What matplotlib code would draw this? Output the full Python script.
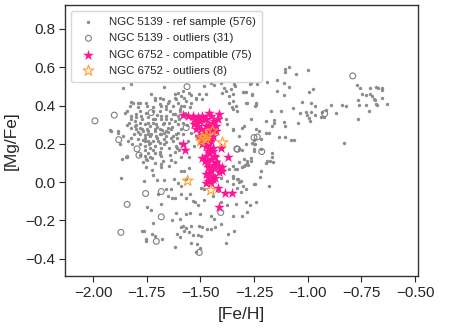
import numpy as np
import matplotlib
matplotlib.use("Agg")
import matplotlib.pyplot as plt
import seaborn as sns

sns.set_theme(style="ticks")
plt.rcParams["font.family"] = ["Liberation Sans", "DejaVu Sans"]

# NGC 5139 reference sample ([Fe/H], [Mg/Fe])
ref_pts = [
    (-1.085, 0.604), (-1.107, 0.59), (-1.107, 0.574), (-1.056, 0.567), (-0.999, 0.588),
    (-1.142, 0.532), (-1.111, 0.518), (-1.088, 0.499), (-1.27, 0.511), (-1.236, 0.515),
    (-1.19, 0.525), (-1.301, 0.473), (-1.288, 0.469), (-1.258, 0.454), (-1.142, 0.476),
    (-1.11, 0.455), (-0.975, 0.489), (-0.992, 0.471), (-1.286, 0.414), (-1.24, 0.414),
    (-1.245, 0.4), (-1.026, 0.42), (-0.985, 0.414), (-0.968, 0.4), (-0.892, 0.403),
    (-0.841, 0.403), (-0.823, 0.396), (-1.068, 0.386), (-1.124, 0.372), (-1.037, 0.36),
    (-1.006, 0.369), (-1.005, 0.351), (-0.986, 0.369), (-0.968, 0.353), (-0.995, 0.334),
    (-0.991, 0.317), (-0.934, 0.369), (-0.916, 0.376), (-0.937, 0.338), (-0.926, 0.341),
    (-0.867, 0.362), (-1.156, 0.323), (-1.168, 0.294), (-1.108, 0.316), (-1.104, 0.292),
    (-1.046, 0.309), (-1.193, 0.259), (-1.134, 0.236), (-1.104, 0.238), (-1.08, 0.221),
    (-1.063, 0.221), (-0.833, 0.207), (-1.25, 0.221), (-1.216, 0.224), (-1.247, 0.198),
    (-0.772, 0.505), (-0.756, 0.492), (-0.71, 0.492), (-0.684, 0.499), (-0.671, 0.494),
    (-0.656, 0.494), (-0.656, 0.48), (-0.745, 0.462), (-0.728, 0.454), (-0.71, 0.459),
    (-0.702, 0.45), (-0.69, 0.433), (-0.656, 0.437), (-0.764, 0.43), (-0.761, 0.403),
    (-0.726, 0.403), (-0.682, 0.41), (-0.679, 0.403), (-0.63, 0.41), (-0.715, 0.372),
    (-0.764, 0.332), (-0.687, 0.43),
    (-1.319, 0.172), (-1.304, 0.167), (-1.25, 0.163), (-1.25, 0.198), (-1.165, 0.153),
    (-1.263, 0.124), (-1.284, 0.099), (-1.276, 0.09), (-1.292, 0.089), (-1.193, 0.101),
    (-1.177, 0.111), (-1.161, 0.104), (-1.224, 0.028), (-1.25, -0.007), (-1.245, -0.01),
    (-1.319, 0.002), (-1.301, -0.022), (-1.286, -0.033), (-1.312, -0.05), (-1.286, -0.101),
    (-1.27, -0.12), (-1.24, -0.106), (-1.281, -0.156), (-1.304, -0.179),
    (-1.847, 0.134), (-1.87, 0.024), (-1.759, 0.139), (-1.749, 0.116), (-1.726, 0.124),
    (-1.767, 0.106), (-1.713, 0.099), (-1.682, 0.094), (-1.675, 0.111), (-1.636, 0.115),
    (-1.62, 0.103), (-1.644, 0.082), (-1.685, 0.077), (-1.726, 0.064), (-1.755, 0.077),
    (-1.721, 0.037), (-1.701, 0.012), (-1.763, 0.007), (-1.667, 0.012), (-1.625, 0.019),
    (-1.59, 0.059), (-1.574, 0.059), (-1.551, 0.073), (-1.569, 0.019), (-1.59, -0.022),
    (-1.605, -0.005), (-1.636, -0.033), (-1.659, -0.037), (-1.698, -0.063), (-1.651, -0.071),
    (-1.633, -0.08), (-1.616, -0.085), (-1.59, -0.063), (-1.548, -0.063), (-1.566, -0.08),
    (-1.536, -0.097), (-1.525, -0.106), (-1.512, -0.12), (-1.497, -0.028), (-1.481, -0.033),
    (-1.481, -0.094), (-1.682, -0.115), (-1.747, -0.132), (-1.728, -0.145), (-1.613, -0.163),
    (-1.597, -0.193), (-1.633, -0.197), (-1.566, -0.167), (-1.546, -0.162), (-1.5, -0.167),
    (-1.721, -0.215), (-1.582, -0.228), (-1.569, -0.24), (-1.59, -0.236), (-1.543, -0.231),
    (-1.505, -0.228), (-1.494, -0.233), (-1.574, -0.254), (-1.551, -0.262), (-1.536, -0.276),
    (-1.512, -0.276), (-1.497, -0.28), (-1.608, -0.271), (-1.593, -0.288), (-1.772, -0.257),
    (-1.763, -0.257), (-1.726, -0.271), (-1.713, -0.28), (-1.752, -0.297), (-1.755, -0.309),
    (-1.679, -0.294), (-1.543, -0.318), (-1.516, -0.323), (-1.616, -0.336), (-1.52, -0.362),
    (-1.5, -0.341), (-1.875, 0.198), (-1.551, 0.129), (-1.59, 0.129), (-1.608, 0.181),
    (-1.682, 0.137), (-1.42, 0.111), (-1.405, 0.024), (-1.42, -0.045), (-1.443, -0.071),
    (-1.405, -0.106), (-1.374, -0.118), (-1.335, -0.115), (-1.35, -0.174), (-1.405, -0.219),
    (-1.435, -0.193), (-1.451, -0.174), (-1.369, -0.268), (-1.381, -0.315), (-1.343, -0.254),
    (-1.35, 0.024), (-1.327, 0.068), (-1.304, 0.077), (-1.338, 0.068), (-1.374, 0.007),
    (-1.323, 0.016), (-1.312, 0.007), (-1.35, -0.01), (-1.327, -0.028), (-1.471, -0.245),
    (-1.431, -0.236), (-1.451, -0.245),
    (-1.825, 0.511), (-1.86, 0.494), (-1.667, 0.499), (-1.435, 0.508), (-1.405, 0.516),
    (-1.389, 0.494), (-1.381, 0.476), (-1.397, 0.468), (-1.343, 0.511), (-1.338, 0.502),
    (-1.296, 0.473), (-1.265, 0.52), (-1.35, 0.459), (-1.258, 0.459), (-1.474, 0.459),
    (-1.505, 0.459), (-1.551, 0.468), (-1.582, 0.476), (-1.574, 0.442), (-1.62, 0.459),
    (-1.613, 0.433), (-1.644, 0.424), (-1.675, 0.433), (-1.713, 0.442), (-1.814, 0.416),
    (-1.782, 0.412), (-1.749, 0.398), (-1.69, 0.407), (-1.69, 0.372), (-1.659, 0.381),
    (-1.628, 0.398), (-1.605, 0.416), (-1.59, 0.398), (-1.566, 0.424), (-1.543, 0.416),
    (-1.52, 0.442), (-1.49, 0.433), (-1.597, 0.372), (-1.628, 0.355), (-1.659, 0.346),
    (-1.682, 0.332), (-1.713, 0.329), (-1.744, 0.338), (-1.775, 0.346), (-1.798, 0.355),
    (-1.821, 0.329), (-1.806, 0.32), (-1.833, 0.311), (-1.782, 0.311), (-1.759, 0.303),
    (-1.736, 0.294), (-1.705, 0.303), (-1.675, 0.303), (-1.644, 0.311), (-1.62, 0.32),
    (-1.605, 0.346), (-1.636, 0.276), (-1.659, 0.268), (-1.69, 0.276), (-1.713, 0.268),
    (-1.744, 0.268), (-1.77, 0.276), (-1.798, 0.276), (-1.821, 0.285), (-1.921, 0.273),
    (-1.883, 0.268), (-1.782, 0.25), (-1.759, 0.245), (-1.736, 0.242), (-1.705, 0.242),
    (-1.682, 0.25), (-1.659, 0.242), (-1.628, 0.242), (-1.605, 0.259), (-1.79, 0.224),
    (-1.767, 0.219), (-1.744, 0.215), (-1.721, 0.215), (-1.69, 0.207), (-1.662, 0.21),
    (-1.628, 0.215), (-1.597, 0.207), (-1.821, 0.233), (-1.837, 0.215), (-1.759, 0.189),
    (-1.736, 0.181), (-1.713, 0.189), (-1.682, 0.181), (-1.644, 0.181), (-1.613, 0.189),
    (-1.744, 0.155), (-1.713, 0.155), (-1.69, 0.146), (-1.844, 0.137), (-1.752, 0.12),
    (-1.733, 0.134), (-1.539, 0.338), (-1.536, 0.303), (-1.543, 0.259), (-1.559, 0.215),
    (-1.528, 0.189), (-1.52, 0.242),
    (-1.35, 0.381), (-1.374, 0.303), (-1.35, 0.276), (-1.319, 0.242), (-1.296, 0.294),
    (-1.265, 0.329), (-1.243, 0.276), (-1.288, 0.198), (-1.25, 0.172), (-1.265, 0.111),
    (-1.319, 0.103), (-1.296, 0.085), (-1.35, 0.085), (-1.366, 0.068),
    (-1.366, 0.416), (-1.353, 0.395), (-1.327, 0.372), (-1.281, 0.416), (-1.243, 0.402),
    (-1.381, 0.332), (-1.35, 0.273), (-1.304, 0.285), (-1.258, 0.207), (-1.296, 0.12),
    (-1.281, 0.111), (-1.188, 0.111), (-1.165, 0.129), (-1.35, 0.033), (-1.327, 0.016),
    (-1.219, 0.059), (-1.196, 0.32), (-1.173, 0.372), (-1.18, 0.259), (-1.227, 0.268),
    (-1.157, 0.311), (-1.219, 0.172), (-1.18, -0.019),
    (-1.481, 0.502), (-1.451, 0.516), (-1.358, 0.485), (-1.605, 0.468), (-1.59, 0.45),
    (-1.62, 0.437), (-1.543, 0.454), (-1.52, 0.433), (-1.729, 0.459), (-1.713, 0.43),
    (-1.752, 0.416), (-1.79, 0.416), (-1.821, 0.419), (-1.844, 0.372), (-1.852, 0.363),
    (-1.821, 0.346), (-1.798, 0.338), (-1.917, 0.268), (-1.883, 0.259), (-1.806, 0.294),
    (-1.782, 0.285), (-1.767, 0.268), (-1.744, 0.25), (-1.713, 0.276), (-1.69, 0.25),
    (-1.667, 0.259), (-1.651, 0.285), (-1.667, 0.311), (-1.636, 0.329), (-1.682, 0.346),
    (-1.62, 0.355), (-1.597, 0.381), (-1.574, 0.398), (-1.651, 0.416), (-1.682, 0.398),
    (-1.721, 0.372), (-1.752, 0.363), (-1.744, 0.311), (-1.721, 0.329), (-1.759, 0.215),
    (-1.736, 0.207), (-1.698, 0.215), (-1.782, 0.198), (-1.667, 0.224), (-1.636, 0.233),
    (-1.613, 0.25), (-1.59, 0.276), (-1.582, 0.311), (-1.605, 0.303), (-1.366, 0.45),
    (-1.35, 0.424), (-1.335, 0.398), (-1.866, 0.12), (-1.844, 0.134),
    # extra points in the dense left cloud
    (-1.80, 0.30), (-1.79, 0.26), (-1.77, 0.33), (-1.76, 0.23), (-1.75, 0.28),
    (-1.73, 0.25), (-1.72, 0.31), (-1.70, 0.29), (-1.70, 0.23), (-1.68, 0.27),
    (-1.67, 0.20), (-1.66, 0.33), (-1.65, 0.26), (-1.64, 0.37), (-1.63, 0.29),
    (-1.78, 0.37), (-1.76, 0.17), (-1.74, 0.20), (-1.72, 0.17), (-1.70, 0.35),
    (-1.69, 0.16), (-1.81, 0.25), (-1.82, 0.20), (-1.84, 0.30), (-1.86, 0.24),
    (-1.78, 0.14), (-1.72, 0.39), (-1.66, 0.40), (-1.60, 0.33), (-1.61, 0.23),
    (-1.57, 0.36), (-1.56, 0.30), (-1.55, 0.39), (-1.58, 0.25), (-1.62, 0.16),
    (-1.64, 0.14), (-1.60, 0.17), (-1.79, 0.39), (-1.83, 0.40), (-1.69, 0.44),
]

# NGC 5139 outliers
out5139_pts = [
    (-0.79, 0.555), (-1.235, 0.236), (-0.921, 0.358), (-1.214, 0.16), (-1.795, 0.174),
    (-1.786, 0.141), (-1.755, -0.059), (-1.682, -0.049), (-1.841, -0.116), (-1.682, -0.181),
    (-1.87, -0.262), (-1.705, -0.309), (-1.505, -0.367), (-1.405, -0.158), (-1.33, 0.174),
    (-1.562, 0.499), (-1.991, 0.32), (-1.901, 0.35), (-1.88, 0.222), (-1.729, 0.363),
    (-1.566, 0.285), (-1.327, 0.172), (-1.25, 0.233),
]

# NGC 6752 compatible stars
comp6752_pts = [
    (-1.579, 0.35), (-1.559, 0.343), (-1.536, 0.346), (-1.512, 0.338), (-1.49, 0.346),
    (-1.462, 0.363), (-1.451, 0.346), (-1.412, 0.355), (-1.435, 0.32), (-1.427, 0.294),
    (-1.528, 0.303), (-1.512, 0.294), (-1.497, 0.276), (-1.474, 0.294), (-1.458, 0.268),
    (-1.481, 0.25), (-1.508, 0.242), (-1.49, 0.224), (-1.466, 0.207), (-1.451, 0.215),
    (-1.474, 0.189), (-1.458, 0.172), (-1.44, 0.163), (-1.405, 0.176), (-1.579, 0.202),
    (-1.571, 0.167), (-1.369, 0.134), (-1.49, 0.125), (-1.477, 0.111), (-1.451, 0.12),
    (-1.435, 0.137), (-1.427, 0.103), (-1.412, 0.085), (-1.397, 0.077), (-1.466, 0.077),
    (-1.451, 0.059), (-1.474, 0.042), (-1.443, 0.033), (-1.415, 0.051), (-1.397, 0.059),
    (-1.466, 0.007), (-1.451, -0.002), (-1.474, -0.002), (-1.42, -0.028), (-1.384, -0.054),
    (-1.353, -0.057), (-1.415, -0.132), (-1.427, 0.268), (-1.505, 0.329), (-1.474, 0.329),
    (-1.443, 0.311), (-1.52, 0.276), (-1.443, 0.242), (-1.466, 0.163), (-1.474, 0.137),
    (-1.435, 0.077), (-1.458, 0.024), (-1.44, 0.016), (-1.50, 0.32), (-1.46, 0.30),
    (-1.44, 0.28), (-1.47, 0.25), (-1.45, 0.23), (-1.49, 0.20), (-1.46, 0.15),
    (-1.43, 0.13), (-1.47, 0.10), (-1.44, 0.09), (-1.46, 0.05), (-1.43, 0.02),
    (-1.48, 0.33), (-1.53, 0.33), (-1.42, 0.33), (-1.46, 0.21), (-1.44, 0.18),
]

# NGC 6752 outliers
out6752_pts = [
    (-1.443, 0.268), (-1.49, 0.233), (-1.497, 0.215), (-1.474, 0.224), (-1.397, 0.207),
    (-1.559, 0.007), (-1.451, -0.042), (-1.47, 0.24),
]

labels = ["NGC 5139 - ref sample (576)", "NGC 5139 - outliers (31)",
          "NGC 6752 - compatible (75)", "NGC 6752 - outliers (8)"]

ref = np.array(ref_pts)
o1 = np.array(out5139_pts)
comp = np.array(comp6752_pts)
o2 = np.array(out6752_pts)

fig = plt.figure(figsize=(4.49, 3.35), dpi=100)
ax = fig.add_axes([0.145, 0.176, 0.786, 0.809])

ax.scatter(ref[:, 0], ref[:, 1], s=6, color="#8c8c8c", linewidths=0, label=labels[0])
ax.scatter(o1[:, 0], o1[:, 1], s=18, facecolors="none", edgecolors="#7f7f7f",
           linewidths=0.8, label=labels[1])
ax.scatter(comp[:, 0], comp[:, 1], s=65, marker="*", color="#ff1493",
           linewidths=0, label=labels[2])
ax.scatter(o2[:, 0], o2[:, 1], s=65, marker="*", facecolors="none",
           edgecolors="#ffa030", linewidths=0.8, label=labels[3])

ax.set_xlim(-2.13, -0.486)
ax.set_ylim(-0.49, 0.925)
ax.set_xticks([-2.0, -1.75, -1.5, -1.25, -1.0, -0.75, -0.5])
ax.set_yticks([-0.4, -0.2, 0.0, 0.2, 0.4, 0.6, 0.8])
ax.tick_params(labelsize=11, length=4, width=0.8, pad=3)
ax.set_xlabel("[Fe/H]", fontsize=12.5, labelpad=5)
ax.set_ylabel("[Mg/Fe]", fontsize=12.5, labelpad=5)
for sp in ax.spines.values():
    sp.set_linewidth(1.0)
    sp.set_color("0.2")

ax.legend(loc="upper left", fontsize=8.2, frameon=True, handletextpad=0.8,
          borderpad=0.55, labelspacing=0.55)

fig.savefig("out.png", dpi=100)
print("Saved out.png")
